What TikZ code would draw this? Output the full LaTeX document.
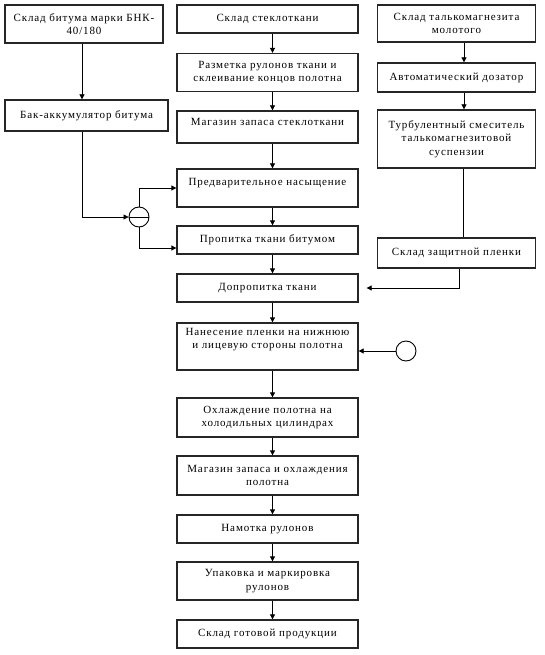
\documentclass[tikz,border=0pt]{standalone}
\usepackage{fontspec}
\setmainfont{Liberation Serif}[LetterSpace=8]
\usetikzlibrary{arrows.meta}
\begin{document}
\begin{tikzpicture}[x=1pt,y=-1pt,
  box/.style={draw=black!85, line width=1.3pt, align=center, inner sep=0pt,
    font=\fontsize{11}{13.5}\selectfont},
  mid/.style={box, minimum width=181pt},
  rgt/.style={box, minimum width=157.5pt},
  arr/.style={-{Triangle[length=5pt,width=5pt]}, line width=0.8pt},
  ln/.style={line width=0.8pt},
  valve/.style={draw, circle, minimum size=20pt, inner sep=0pt, line width=0.9pt}]
\useasboundingbox (0,0) rectangle (544,655);

% left column
\node[box, minimum width=158pt, minimum height=38pt] (A) at (84,24) {Склад битума марки БНК-\\40/180};
\node[box, minimum width=163pt, minimum height=31pt] (B) at (86.5,115.5) {Бак-аккумулятор битума};

% middle column
\node[mid, minimum height=28pt] (M1) at (267.5,19) {Склад стеклоткани};
\node[mid, minimum height=38pt] (M2) at (267.5,72.5) {Разметка рулонов ткани и\\склеивание концов полотна};
\node[mid, minimum height=32pt, text depth=10pt] (M3) at (267.5,127) {Магазин запаса стеклоткани};
\node[mid, minimum height=38pt, text depth=12pt] (M4) at (267.5,188) {Предварительное насыщение};
\node[mid, minimum height=28pt] (M5) at (267.5,240) {Пропитка ткани битумом};
\node[mid, minimum height=28pt] (M6) at (267.5,288) {Допропитка ткани};
\node[mid, minimum height=47pt, text depth=16pt] (M7) at (267.5,346.5) {Нанесение пленки на нижнюю\\и лицевую стороны полотна};
\node[mid, minimum height=39pt] (M8) at (267.5,417.5) {Охлаждение полотна на\\холодильных цилиндрах};
\node[mid, minimum height=39pt] (M9) at (267.5,475.5) {Магазин запаса и охлаждения\\полотна};
\node[mid, minimum height=28pt] (M10) at (267.5,529) {Намотка рулонов};
\node[mid, minimum height=38pt] (M11) at (267.5,581) {Упаковка и маркировка\\рулонов};
\node[mid, minimum height=28pt] (M12) at (267.5,634) {Склад готовой продукции};

% right column
\node[rgt, minimum height=37pt] (R1) at (456.5,23.5) {Склад талькомагнезита\\молотого};
\node[rgt, minimum height=29pt] (R2) at (456.5,77.5) {Автоматический дозатор};
\node[rgt, minimum height=58pt] (R3) at (456.5,139) {Турбулентный смеситель\\талькомагнезитовой\\суспензии};
\node[rgt, minimum height=30pt] (R4) at (456.5,253) {Склад защитной пленки};

% valves
\node[valve] (V) at (139,217) {};
\draw[ln] (V.west) -- (V.east);
\node[valve] (C) at (406,351) {};

% connectors left
\draw[arr] ([xshift=-2pt]A.south) -- ([xshift=-2pt]A.south |- B.north);
\draw[arr] ([xshift=-4.5pt]B.south) |- (V.west);
\draw[arr] (V.north) |- (M4.west);
\draw[arr] (V.south) |- ([yshift=-8pt]M5.west);

% connectors middle
\foreach \a/\b in {M1/M2,M2/M3,M3/M4,M4/M5,M5/M6,M6/M7,M7/M8,M8/M9,M9/M10,M10/M11,M11/M12}
  \draw[arr] ([xshift=5pt]\a.south) -- ([xshift=5pt]\b.north);

% connectors right
\draw[arr] ([xshift=7.5pt]R1.south) -- ([xshift=7.5pt]R2.north);
\draw[arr] ([xshift=7.5pt]R2.south) -- ([xshift=7.5pt]R3.north);
\draw[ln] ([xshift=6.5pt]R3.south) -- ([xshift=6.5pt]R4.north);
\draw[arr] ([xshift=2.5pt]R4.south) |- ([xshift=8pt]M6.east);
\draw[arr] (C.west) -- (C.west -| M7.east);
\end{tikzpicture}
\end{document}
